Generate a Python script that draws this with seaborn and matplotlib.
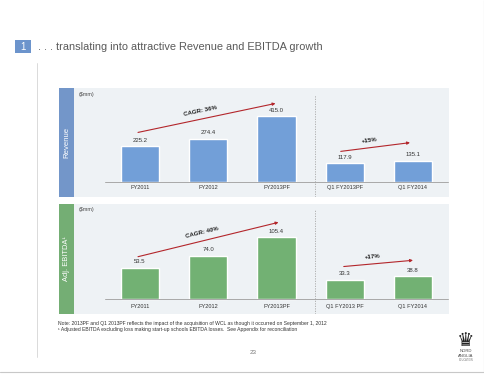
import numpy as np
import matplotlib
matplotlib.use("Agg")
import matplotlib.pyplot as plt
import seaborn as sns
from matplotlib.patches import Rectangle

# data
rev_categories = ["FY2011", "FY2012", "FY2013PF", "Q1 FY2013PF", "Q1 FY2014"]
revenue = [225.2, 274.4, 415.0, 117.9, 135.1]
ebitda_categories = ["FY2011", "FY2012", "FY2013PF", "Q1 FY2013 PF", "Q1 FY2014"]
ebitda = [53.5, 74.0, 105.4, 33.3, 38.8]
rev_growth = [("CAGR: 36%", 0, 2), ("+15%", 3, 4)]
ebitda_growth = [("CAGR: 40%", 0, 2), ("+17%", 3, 4)]

sns.set_theme(style="white")
plt.rcParams["font.family"] = ["Liberation Sans", "DejaVu Sans"]

W, H = 485, 374
fig = plt.figure(figsize=(W / 100, H / 100), dpi=100)
fig.patch.set_facecolor("white")

PANEL_BG = "#eef2f5"
BLUE_BAR = "#729fd8"
BLUE_STRIP = "#7396c9"
GREEN_BAR = "#72b173"
GREEN_STRIP = "#74ae74"
ARROW_RED = "#b3262b"


def px_axes(x0, y0, x1, y1, **kw):
    # axes from pixel box (top-left origin)
    return fig.add_axes([x0 / W, 1 - y1 / H, (x1 - x0) / W, (y1 - y0) / H], **kw)


# overlay for slide decorations
deco = px_axes(0, 0, W, H, zorder=0)
deco.set_xlim(0, W)
deco.set_ylim(H, 0)
deco.axis("off")

deco.add_patch(Rectangle((15, 40), 16, 13, color="#6c94cc", lw=0))
deco.text(23, 46.5, "1", color="white", fontsize=7, ha="center", va="center")
deco.text(38, 47, ". . . translating into attractive Revenue and EBITDA growth",
          color="#5a5a5a", fontsize=7.9, ha="left", va="center")
deco.plot([37, 37], [63, 357], color="#d4d4d4", lw=0.6)
deco.plot([484, 484], [0, 372], color="#c8c8c8", lw=0.8)
deco.plot([0, 484], [372, 372], color="#c8c8c8", lw=0.8)

deco.add_patch(Rectangle((59, 88), 15, 109, color=BLUE_STRIP, lw=0))
deco.add_patch(Rectangle((59, 204), 15, 110, color=GREEN_STRIP, lw=0))
deco.text(66.5, 142.5, "Revenue", color="white", fontsize=5.6, rotation=90,
          ha="center", va="center")
deco.text(66.5, 259, "Adj. EBITDA\u00b9", color="white", fontsize=5.4, rotation=90,
          ha="center", va="center")

deco.text(58, 323, "Note: 2013PF and Q1 2013PF reflects the impact of the acquisition of WCL "
          "as though it occurred on September 1, 2012",
          fontsize=3.6, color="#333333", ha="left", va="center")
deco.text(58, 329, "\u00b9 Adjusted EBITDA excluding loss making start-up schools EBITDA losses.  "
          "See Appendix for reconciliation",
          fontsize=3.6, color="#333333", ha="left", va="center")
deco.text(253, 353, "23", fontsize=4.5, color="#777777", ha="center", va="center")

deco.text(466, 341, "\u265b", family=["DejaVu Sans"], fontsize=14, color="#222222",
          ha="center", va="center")
deco.text(466, 351.5, "NORD", fontsize=3, color="#444444", ha="center", va="center")
deco.text(466, 356, "ANGLIA", fontsize=3, color="#444444", ha="center", va="center")
deco.text(466, 360, "EDUCATION", fontsize=1.8, color="#777777", ha="center", va="center")


def draw_panel(box, cats, vals, growth, bar_color, base_px, scale,
               label_gap, arrow_offsets, sep_top):
    x0, y0, x1, y1 = box
    ax = px_axes(x0, y0, x1, y1, zorder=1)
    ax.set_facecolor(PANEL_BG)
    sns.barplot(x=cats, y=vals, ax=ax, color=bar_color, saturation=1,
                width=0.557, order=cats)
    c0, step = 140, 68.25
    ax.set_xlim((x0 - c0) / step, (x1 - c0) / step)
    ax.set_ylim((base_px - y1) / scale, (base_px - y0) / scale)
    for s in ax.spines.values():
        s.set_visible(False)
    ax.set_xticks([])
    ax.set_yticks([])
    ax.set_xlabel("")
    ax.set_ylabel("")

    ax.plot([(105 - c0) / step, (448 - c0) / step], [0, 0], color="#a8a8a8", lw=0.7)
    ax.axvline(2.56, ymin=0, ymax=sep_top, color="#a8a8a8", lw=0.6, ls=(0, (1.5, 1.5)))
    ax.text(0.013, 0.95 if sep_top > 0.94 else 0.94, "($mm)", transform=ax.transAxes,
            fontsize=3.8, color="#444444", ha="left", va="center")

    for i, (c, v) in enumerate(zip(cats, vals)):
        ax.annotate(c, (i, 0), xytext=(0, -label_gap), textcoords="offset points",
                    ha="center", va="center", fontsize=4.1, color="#333333")
        ax.annotate(f"{v:.1f}", (i, v), xytext=(0, 2.5), textcoords="offset points",
                    ha="center", va="bottom", fontsize=4.3, color="#333333")

    for (label, i0, i1), (dx0, o0, dx1, o1) in zip(growth, arrow_offsets):
        p0 = (i0 + dx0 / step, vals[i0] + o0 / scale)
        p1 = (i1 + dx1 / step, vals[i1] + o1 / scale)
        ax.annotate("", xy=p1, xytext=p0,
                    arrowprops=dict(arrowstyle="-|>", color=ARROW_RED, lw=0.8,
                                    mutation_scale=4, shrinkA=0, shrinkB=0))
        q0 = ax.transData.transform(p0)
        q1 = ax.transData.transform(p1)
        ang = np.degrees(np.arctan2(q1[1] - q0[1], q1[0] - q0[0]))
        mid = ((p0[0] + p1[0]) / 2 - 6 / step, (p0[1] + p1[1]) / 2)
        ax.annotate(label, mid, xytext=(0, 3), textcoords="offset points",
                    rotation=ang, rotation_mode="anchor", ha="center", va="bottom",
                    fontsize=4.4, fontweight="bold", color="#222222")
    return ax


draw_panel((74, 88, 449, 197), rev_categories, revenue, rev_growth, BLUE_BAR,
           182, 0.158, 4.0, [(-2, 14, -1, 13), (-4, 12, -3, 18)], 0.936)
draw_panel((74, 204, 449, 314), ebitda_categories, ebitda, ebitda_growth, GREEN_BAR,
           299, 0.585, 5.3, [(-2, 11, 2, 15), (-1, 13, 0, 16)], 0.945)

fig.savefig("out.png", dpi=100)
